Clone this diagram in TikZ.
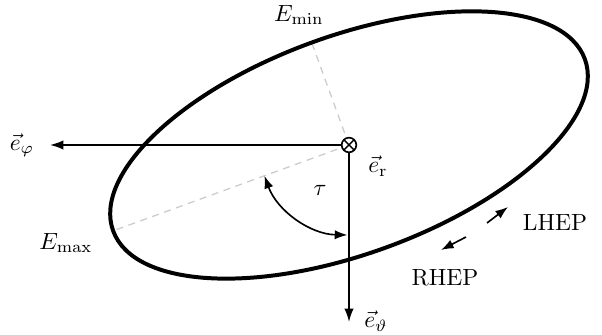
\documentclass[tikz,border=0pt]{standalone}
\usetikzlibrary{arrows.meta,calc}
\begin{document}
\begin{tikzpicture}[x=0.015cm,y=0.015cm,
  axis/.style={line width=0.7pt,-{Latex[length=2mm,width=1.4mm]}},
  helper/.style={gray!40,line width=0.55pt,dash pattern=on 3pt off 2.4pt},
  rot/.style={line width=0.7pt,-{Latex[length=1.9mm,width=1.4mm]}},
  tauarr/.style={line width=0.7pt,{Latex[length=1.9mm,width=1.4mm]}-{Latex[length=1.9mm,width=1.4mm]}},
  lbl/.style={inner sep=1pt}]
\useasboundingbox (0,0) rectangle (602,335);
\coordinate (O) at (349,190);
\coordinate (Emaxend) at ($(O)+(200:251)$);
\coordinate (Eminend) at ($(O)+(110:109)$);
% dashed axes of the ellipse
\draw[helper] (O) -- (Emaxend);
\draw[helper] (O) -- (Eminend);
% ellipse
\draw[line width=1.7pt,rotate around={20:(O)}] (O) ellipse [x radius=3.765cm, y radius=1.635cm];
% origin
\node[draw,circle,line width=0.7pt,minimum size=0.22cm,inner sep=0pt,fill=white,
  path picture={\draw[line width=0.6pt] (path picture bounding box.north west) -- (path picture bounding box.south east)
  (path picture bounding box.north east) -- (path picture bounding box.south west);}] (er) at (O) {};
\coordinate (phitip) at (50,190);
\coordinate (thetatip) at (349,13);
\draw[axis] (er) -- (phitip);
\draw[axis] (er) -- (thetatip);
\node[lbl] (ephi) at (22,190) {$\vec{e}_\varphi$};
\node[lbl] (etheta) at (376,14) {$\vec{e}_\vartheta$};
\node[lbl] (erl) at (378,169) {$\vec{e}_{\mathrm{r}}$};
% tau
\coordinate (tauA) at ($(O)+(200:90)$);
\draw[tauarr] (tauA) arc[start angle=200,end angle=269,radius=1.35cm];
\node[lbl] (tau) at (320,145) {$\tau$};
% labels
\node[lbl] (Emax) at (66,92) {$E_{\max}$};
\node[lbl] (Emin) at (299,320) {$E_{\min}$};
% rotation arrows
\coordinate (l1) at (487,112);
\coordinate (l2) at (508,128);
\coordinate (r1) at (466,98);
\coordinate (r2) at (441,85);
\draw[rot] (l1) -- (l2);
\draw[rot] (r1) -- (r2);
\node[lbl] (LHEP) at (555,112) {LHEP};
\node[lbl] (RHEP) at (445,57) {RHEP};
\end{tikzpicture}
\end{document}
